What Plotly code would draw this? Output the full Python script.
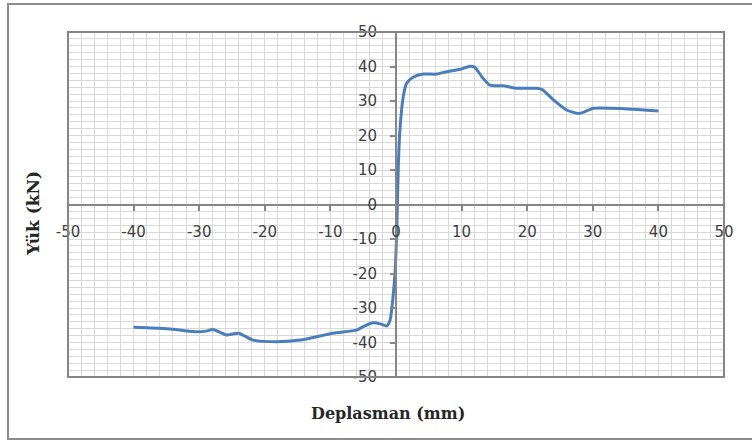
import plotly.graph_objects as go

# Displacement (mm) and load (kN)
deplasman = [-40, -36, -33, -30.4, -28.9, -27.9, -25.8, -24, -21.8, -18.2, -14.6, -9.6,
             -6, -5, -3.5, -2.4, -1.4, -0.9, -0.5, -0.15, 0.1, 0.35, 0.6, 1.1, 1.6, 2.6,
             4.2, 6.2, 7.7, 9.8, 11.3, 12, 13.1, 14.3, 16.4, 18.4, 21.5, 22.3, 24, 26,
             27.8, 28.8, 30.1, 33.1, 36.2, 40]
yuk = [-35.6, -35.9, -36.4, -36.9, -36.7, -36.2, -37.8, -37.3, -39.3, -39.8, -39.3, -37.3,
       -36.4, -35.4, -34.3, -34.6, -35.2, -33.5, -27.7, -19.9, -8.3, 11, 21.6, 31.2, 35.1, 36.9,
       37.8, 37.8, 38.5, 39.2, 40.1, 39.8, 37, 34.6, 34.4, 33.7, 33.7, 33.3, 30.3, 27.4,
       26.4, 26.9, 27.9, 27.9, 27.6, 27.1]

tick_vals = [-50, -40, -30, -20, -10, 0, 10, 20, 30, 40, 50]
tick_text = ["-50", "-40", "-30", "-20", "-10", "0", "10", "20", "30", "40", "50"]

x_title = "Deplasman (mm)"
y_title = "Yük (kN)"

W, H = 752, 441
L, R, T, B = 68, 28, 32, 64
pw, ph = W - L - R, H - T - B

def px(x):
    return (x - L) / pw

def py(y):
    return (H - B - y) / ph

fig = go.Figure()
fig.add_trace(go.Scatter(x=deplasman, y=yuk, mode="lines",
                         line=dict(color="#4A7EBB", width=3, shape="spline", smoothing=0.6),
                         showlegend=False, hoverinfo="skip"))

tickfont = dict(family="DejaVu Sans", size=15, color="#404040")
grid = "#d9d9d9"
axcol = "#868686"

common = dict(range=[-50, 50], tickvals=tick_vals, ticktext=tick_text,
              anchor="free", position=0.5, automargin=False,
              showline=True, linecolor=axcol, linewidth=2,
              ticks="outside", ticklen=5, tickwidth=2, tickcolor=axcol,
              showgrid=True, gridcolor=grid, gridwidth=1, zeroline=False,
              minor=dict(dtick=2, tick0=0, showgrid=True, gridcolor=grid, gridwidth=1),
              tickfont=tickfont, fixedrange=True)

fig.update_layout(
    width=W, height=H,
    margin=dict(l=L, r=R, t=T, b=B, pad=0),
    paper_bgcolor="white", plot_bgcolor="white",
    xaxis=dict(**common, ticklabelstandoff=8),
    yaxis=dict(**common, ticklabelstandoff=10),
    shapes=[
        dict(type="rect", xref="paper", yref="paper", x0=0, x1=1, y0=0, y1=1,
             line=dict(color=axcol, width=2), layer="above"),
        dict(type="rect", xref="paper", yref="paper", x0=px(8), x1=px(770), y0=py(439), y1=py(4),
             line=dict(color="#8c8c8c", width=2), layer="above"),
    ],
    annotations=[
        dict(text=f"<b>{x_title}</b>", xref="paper", yref="paper", x=px(388), y=py(413),
             showarrow=False, xanchor="center", yanchor="middle",
             font=dict(family="DejaVu Serif", size=16, color="#262626")),
        dict(text=f"<b>{y_title}</b>", xref="paper", yref="paper", x=px(33), y=py(214),
             showarrow=False, xanchor="center", yanchor="middle", textangle=-90,
             font=dict(family="DejaVu Serif", size=17, color="#262626")),
    ],
)

fig.write_html("out.html", config={"displayModeBar": False},
               post_script="document.body.style.margin='0';")
